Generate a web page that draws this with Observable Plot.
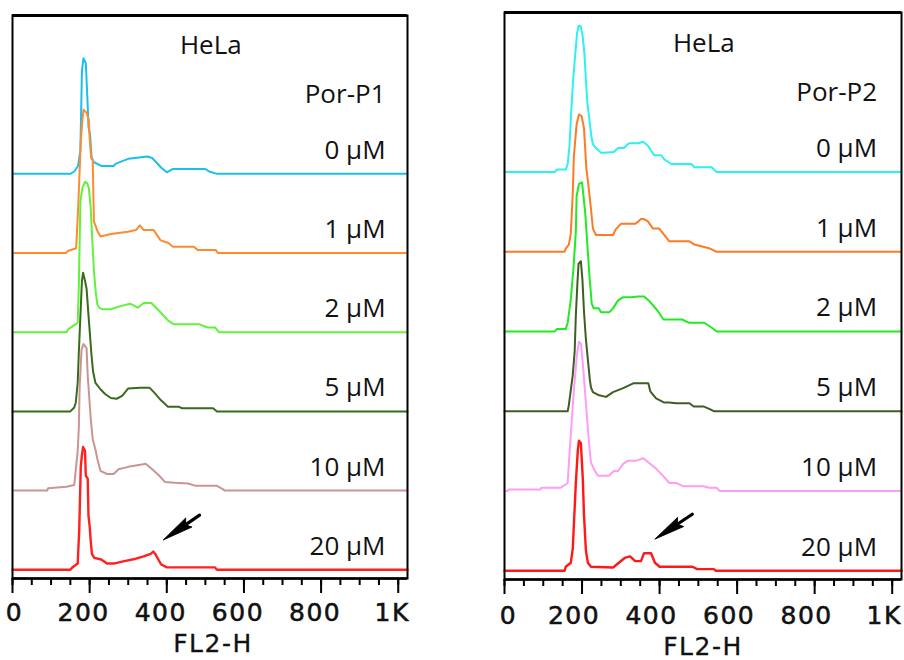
<!DOCTYPE html>
<html><head><meta charset="utf-8">
<script src="https://cdn.jsdelivr.net/npm/d3@7"></script>
<script src="https://cdn.jsdelivr.net/npm/@observablehq/plot@0.6"></script>
<style>
body{margin:0;background:#fff;}
#wrap{display:flex;width:904px;height:660px;overflow:hidden;}
svg{overflow:visible;}
.axisfont text, text.axisfont{letter-spacing:1.5px;}
</style></head><body><div id="wrap"></div>
<script>
// ---------- labels ----------
const concentrations = ["0 µM", "1 µM", "2 µM", "5 µM", "10 µM", "20 µM"];
const cellLine = "HeLa";
const compounds = ["Por-P1", "Por-P2"];
const xLabel = "FL2-H";
const majorTicks = [0, 200, 400, 600, 800, 1000];
const tickLabels = ["0", "200", "400", "600", "800", "1K"];
const minorTicks = d3.range(0, 1001, 50);

// ---------- colours ----------
const colorsP1 = ["#1dbdf0", "#ff8a30", "#62f23c", "#3a6a1c", "#c99592", "#ff2020"];
const colorsP2 = ["#2ef0f0", "#ff7a24", "#22ea22", "#3d5e25", "#ff9cf5", "#ff1818"];

// ---------- histograms: [FL2-H channel, count] ----------
const p1_0uM = [[0,0],[150,0],[160,3],[170,10],[176,30],[180,130],[184,146],[190,140],[194,97],[197,59],[201,50],[205,21],[210,15],[230,10],[262,10],[268,13],[300,19],[350,22],[362,20],[372,15],[385,8],[400,2],[415,6],[500,6],[510,3],[530,0],[1024,0]];
const p1_1uM = [[0,0],[138,0],[145,3],[165,6],[168,35],[171,66],[177,141],[181,167],[184,181],[192,177],[198,168],[200,145],[204,120],[208,117],[211,40],[215,35],[220,28],[228,21],[255,24],[299,27],[320,29],[330,35],[340,29],[366,29],[384,16],[403,13],[416,8],[470,8],[480,4],[527,4],[532,0],[1024,0]];
const p1_2uM = [[0,0],[140,0],[145,4],[163,10],[169,12],[172,60],[176,165],[181,182],[188,190],[194,188],[198,182],[203,155],[207,115],[211,78],[216,50],[220,35],[225,31],[233,29],[255,29],[280,33],[305,36],[325,31],[340,37],[360,37],[378,28],[403,15],[418,10],[485,10],[505,6],[525,6],[535,0],[1024,0]];
const p1_5uM = [[0,0],[150,0],[160,5],[164,11],[169,36],[172,75],[176,120],[180,165],[183,175],[188,165],[192,155],[198,115],[205,70],[209,50],[215,36],[228,28],[240,22],[255,17],[270,16],[285,20],[300,29],[330,30],[355,30],[367,24],[385,14],[403,6],[430,6],[440,4],[520,4],[530,0],[1024,0]];
const p1_10uM = [[0,0],[90,0],[92,3],[140,5],[160,7],[169,50],[172,80],[174,130],[179,178],[184,185],[192,180],[195,145],[203,90],[208,65],[215,52],[220,40],[228,25],[245,21],[262,21],[275,27],[300,30],[335,33],[345,34],[360,28],[378,20],[395,11],[420,10],[455,9],[475,6],[530,6],[545,2],[550,0],[1024,0]];
const p1_20uM = [[0,0],[150,0],[155,3],[169,8],[173,50],[177,130],[180,145],[183,155],[188,150],[190,119],[195,115],[197,68],[200,55],[203,35],[206,20],[212,15],[230,13],[245,8],[265,8],[290,11],[320,14],[340,17],[358,20],[365,23],[370,20],[385,7],[400,3],[525,3],[530,0],[1024,0]];

const p2_0uM = [[0,0],[130,0],[135,3],[158,3],[163,10],[168,35],[172,75],[177,115],[182,145],[187,173],[191,183],[196,183],[201,173],[206,150],[210,115],[214,85],[218,70],[224,45],[228,35],[236,30],[249,24],[256,24],[282,25],[293,30],[308,30],[321,36],[345,36],[358,38],[370,33],[386,21],[404,21],[412,16],[430,10],[482,10],[490,6],[534,6],[547,0],[1024,0]];
const p2_1uM = [[0,0],[155,0],[158,4],[166,9],[171,23],[176,72],[179,120],[186,160],[192,172],[199,170],[205,155],[211,105],[216,85],[223,54],[228,29],[236,21],[280,21],[287,28],[300,35],[338,35],[352,41],[360,41],[370,38],[383,29],[399,29],[412,21],[425,13],[477,13],[490,9],[530,4],[547,0],[1024,0]];
const p2_2uM = [[0,0],[130,0],[135,3],[158,3],[163,11],[171,40],[178,80],[184,125],[186,170],[192,185],[200,187],[208,150],[215,100],[219,70],[225,35],[230,29],[243,29],[249,24],[270,24],[280,29],[293,39],[306,43],[327,43],[344,44],[360,44],[372,39],[395,26],[410,15],[458,15],[475,11],[515,11],[534,5],[547,0],[1024,0]];
const p2_5uM = [[0,0],[163,0],[166,8],[176,45],[181,75],[184,120],[188,160],[191,185],[197,188],[201,165],[205,125],[210,90],[216,60],[220,40],[223,30],[228,24],[244,20],[262,18],[280,24],[306,29],[332,35],[365,35],[371,35],[376,25],[391,16],[411,11],[425,11],[443,10],[477,10],[488,6],[513,6],[528,3],[540,0],[1024,0]];
const p2_10uM = [[0,0],[8,0],[10,2],[93,2],[95,4],[145,4],[163,10],[166,35],[171,70],[179,127],[187,172],[192,187],[197,185],[202,160],[210,110],[218,60],[223,36],[230,28],[241,19],[269,19],[282,25],[293,25],[306,34],[319,38],[340,38],[358,41],[373,35],[391,28],[409,19],[425,10],[443,10],[460,6],[513,6],[528,4],[547,4],[555,0],[1024,0]];
const p2_20uM = [[0,0],[155,0],[158,5],[171,10],[176,27],[184,110],[189,150],[192,163],[197,160],[202,115],[205,70],[210,25],[215,10],[223,5],[280,4],[295,10],[310,16],[324,18],[337,12],[352,12],[360,22],[378,22],[388,10],[400,5],[485,5],[497,2],[540,2],[545,0],[1024,0]];

// arrow annotations (tip at [channel, count above the 20 µM baseline])
const arrowTips = [[392, 37], [389, 39]];

const panels = [
  {name: compounds[0], series: [p1_0uM, p1_1uM, p1_2uM, p1_5uM, p1_10uM, p1_20uM], colors: colorsP1,
   m: {left: 12, right: 45, top: 15, bottom: 82}, labelX: 967, tickDy: 42, dxLab: -6, dxZero: 2, xLabDx: 3, xLabDy: 73, rot: 145.7, len: 44},
  {name: compounds[1], series: [p2_0uM, p2_1uM, p2_2uM, p2_5uM, p2_10uM, p2_20uM], colors: colorsP2,
   m: {left: 52, right: 3, top: 12, bottom: 81}, labelX: 961, tickDy: 44, dxLab: -8, dxZero: 4, xLabDx: 0, xLabDy: 75, rot: 146.4, len: 45}
];

const rowStep = 100;
const labelFont = "Open Sans, Noto Sans, sans-serif";
const axisFont = "'Liberation Sans Narrow', 'DejaVu Sans', sans-serif";

// annotation arrow drawn through the plot's own x/y scales
function arrowMark(tip, angle, len) {
  return function (...args) {
    const scales = args.find(a => a && typeof a.x === "function" && typeof a.y === "function");
    const px = scales.x(tip[0]), py = scales.y(tip[1]);
    const g = d3.create("svg:g").attr("transform", `translate(${px},${py}) rotate(${angle})`);
    g.append("line").attr("x1", -26).attr("x2", -len).attr("y1", 0).attr("y2", 0)
      .attr("stroke", "#000").attr("stroke-width", 3.2).attr("stroke-linecap", "round");
    g.append("path").attr("d", "M0,0L-31,-5.5L-27,0L-31,5.5Z").attr("fill", "#000")
      .attr("stroke", "#000").attr("stroke-width", 0.8).attr("stroke-linejoin", "round");
    return g.node();
  };
}

panels.forEach((p, k) => {
  const lineMarks = p.series.map((s, i) =>
    Plot.line(s.map(([x, c]) => ({x, y: (5 - i) * rowStep + c})),
      {x: "x", y: "y", stroke: p.colors[i], strokeWidth: i === 5 ? 2.4 : 2, curve: "linear"})
  );
  const labelRows = concentrations.map((c, i) => ({text: c, y: (5 - i) * rowStep + 19}));
  const axisText = {frameAnchor: "bottom", lineAnchor: "bottom", fontSize: 25, fontFamily: axisFont,
    fill: "#111", stroke: "#111", strokeWidth: 0.55, className: "axisfont"};
  const chart = Plot.plot({
    width: 452, height: 660,
    marginLeft: p.m.left, marginRight: p.m.right, marginTop: p.m.top, marginBottom: p.m.bottom,
    x: {domain: [0, 1024]},
    y: {domain: [-11, 700], axis: null},
    style: {background: "transparent"},
    marks: [
      ...lineMarks,
      Plot.text(labelRows, {x: p.labelX, y: "y", text: "text", textAnchor: "end", lineAnchor: "bottom",
        fontSize: 26, fontFamily: labelFont, fill: "#111"}),
      Plot.text([p.name], {x: p.labelX, y: 589, text: d => d, textAnchor: "end", lineAnchor: "bottom",
        fontSize: 26, fontFamily: labelFont, fill: "#111"}),
      Plot.text([cellLine], {x: 514, y: 651, text: d => d, textAnchor: "middle", lineAnchor: "bottom",
        fontSize: 26, fontFamily: labelFont, fill: "#111"}),
      arrowMark(arrowTips[k], p.rot, p.len),
      Plot.frame({stroke: "black", strokeWidth: 2}),
      Plot.ruleY([700], {stroke: "black", strokeWidth: 3}),
      Plot.ruleY([-11], {stroke: "black", strokeWidth: 2.5}),
      Plot.axisX(minorTicks, {tickSize: 7, tickFormat: () => "", strokeWidth: 2, label: null}),
      Plot.axisX(majorTicks, {tickSize: 15, tickFormat: () => "", strokeWidth: 2, label: null}),
      Plot.text(majorTicks.slice(1), {...axisText, x: d => d, text: d => tickLabels[majorTicks.indexOf(d)],
        dy: p.tickDy, dx: p.dxLab}),
      Plot.text(majorTicks.slice(0, 1), {...axisText, x: d => d, text: d => tickLabels[majorTicks.indexOf(d)],
        dy: p.tickDy, dx: p.dxZero}),
      Plot.text([xLabel], {...axisText, strokeWidth: 0.3, dx: p.xLabDx, dy: p.xLabDy, text: d => d})
    ]
  });
  document.getElementById("wrap").appendChild(chart);
});
</script>
</body></html>
